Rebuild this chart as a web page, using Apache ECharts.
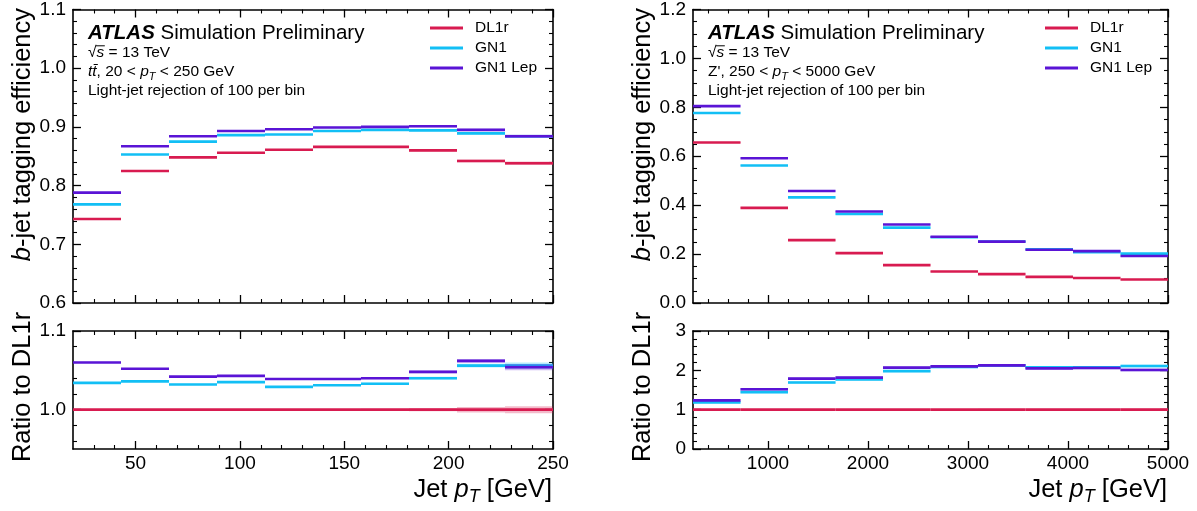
<!DOCTYPE html>
<html><head><meta charset="utf-8">
<script src="https://cdn.jsdelivr.net/npm/echarts@6/dist/echarts.min.js"></script>
<style>html,body{margin:0;padding:0;background:#fff}#c{width:1197px;height:511px}</style>
</head><body><div id="c"></div>
<script>
// ---------------- data ----------------
const seriesNames = ['DL1r', 'GN1', 'GN1 Lep'];
const seriesColors = ['#d81b50', '#12bff5', '#5a14d6'];

const ttbarEdges = [20, 43, 66, 89, 112, 135, 158, 181, 204, 227, 250];
const zpEdges = [250, 725, 1200, 1675, 2150, 2625, 3100, 3575, 4050, 4525, 5000];

// ttbar efficiency
const ttbarDL1r   = [0.743, 0.825, 0.848, 0.856, 0.861, 0.866, 0.866, 0.860, 0.842, 0.838];
const ttbarGN1    = [0.768, 0.853, 0.875, 0.886, 0.887, 0.893, 0.895, 0.894, 0.889, 0.884];
const ttbarGN1Lep = [0.788, 0.867, 0.884, 0.893, 0.896, 0.899, 0.900, 0.901, 0.895, 0.884];
const ttbarDL1rErr   = [0.001, 0.001, 0.001, 0.001, 0.001, 0.0012, 0.0014, 0.0018, 0.0024, 0.003];
const ttbarGN1Err    = [0.001, 0.001, 0.001, 0.001, 0.001, 0.0012, 0.0014, 0.0016, 0.002, 0.0026];
const ttbarGN1LepErr = [0.001, 0.001, 0.001, 0.001, 0.001, 0.0012, 0.0014, 0.0016, 0.002, 0.0026];
// ttbar ratio to DL1r
const ttbarRatioDL1r   = [1, 1, 1, 1, 1, 1, 1, 1, 1, 1];
const ttbarRatioGN1    = [1.034, 1.036, 1.032, 1.035, 1.029, 1.031, 1.033, 1.040, 1.056, 1.056];
const ttbarRatioGN1Lep = [1.060, 1.052, 1.042, 1.043, 1.039, 1.039, 1.040, 1.048, 1.062, 1.054];
const ttbarRatioDL1rErr   = [0.0006, 0.0006, 0.0006, 0.0006, 0.0007, 0.0009, 0.0013, 0.002, 0.0035, 0.0045];
const ttbarRatioGN1Err    = [0.0008, 0.0008, 0.0008, 0.0008, 0.0009, 0.001, 0.0013, 0.0018, 0.0025, 0.004];
const ttbarRatioGN1LepErr = [0.0008, 0.0008, 0.0008, 0.0008, 0.0009, 0.001, 0.0013, 0.0018, 0.0025, 0.004];

// Z' efficiency
const zpDL1r   = [0.656, 0.389, 0.257, 0.204, 0.155, 0.129, 0.118, 0.107, 0.102, 0.096];
const zpGN1    = [0.777, 0.562, 0.432, 0.364, 0.308, 0.269, 0.251, 0.220, 0.208, 0.202];
const zpGN1Lep = [0.805, 0.592, 0.458, 0.374, 0.321, 0.271, 0.251, 0.218, 0.212, 0.192];
const zpDL1rErr   = [0.002, 0.002, 0.002, 0.002, 0.002, 0.002, 0.002, 0.002, 0.002, 0.002];
const zpGN1Err    = [0.002, 0.002, 0.002, 0.002, 0.002, 0.002, 0.002, 0.002, 0.002, 0.002];
const zpGN1LepErr = [0.002, 0.002, 0.002, 0.002, 0.002, 0.002, 0.002, 0.002, 0.002, 0.002];
// Z' ratio to DL1r
const zpRatioDL1r   = [1, 1, 1, 1, 1, 1, 1, 1, 1, 1];
const zpRatioGN1    = [1.185, 1.447, 1.69, 1.77, 1.98, 2.085, 2.125, 2.075, 2.08, 2.11];
const zpRatioGN1Lep = [1.236, 1.52, 1.79, 1.815, 2.07, 2.10, 2.125, 2.05, 2.06, 2.01];
const zpRatioDL1rErr   = [0.01, 0.012, 0.014, 0.016, 0.018, 0.02, 0.022, 0.024, 0.026, 0.03];
const zpRatioGN1Err    = [0.02, 0.03, 0.03, 0.03, 0.03, 0.03, 0.03, 0.03, 0.03, 0.035];
const zpRatioGN1LepErr = [0.02, 0.03, 0.03, 0.03, 0.03, 0.03, 0.03, 0.03, 0.03, 0.035];

// ticks
const ttbarXMajor = [50, 100, 150, 200, 250];
const ttbarXMinor = [30, 40, 60, 70, 80, 90, 110, 120, 130, 140, 160, 170, 180, 190, 210, 220, 230, 240];
const zpXMajor = [1000, 2000, 3000, 4000, 5000];
const zpXMinor = [400, 600, 800, 1200, 1400, 1600, 1800, 2200, 2400, 2600, 2800, 3200, 3400, 3600, 3800, 4200, 4400, 4600, 4800];
const ttbarEffMajor = [0.6, 0.7, 0.8, 0.9, 1.0, 1.1];
const ttbarEffMinor = [0.62, 0.64, 0.66, 0.68, 0.72, 0.74, 0.76, 0.78, 0.82, 0.84, 0.86, 0.88, 0.92, 0.94, 0.96, 0.98, 1.02, 1.04, 1.06, 1.08];
const ttbarRatioMajor = [1.0, 1.1];
const ttbarRatioMinor = [0.96, 0.98, 1.02, 1.04, 1.06, 1.08];
const zpEffMajor = [0.0, 0.2, 0.4, 0.6, 0.8, 1.0, 1.2];
const zpEffMinor = [0.05, 0.1, 0.15, 0.25, 0.3, 0.35, 0.45, 0.5, 0.55, 0.65, 0.7, 0.75, 0.85, 0.9, 0.95, 1.05, 1.1, 1.15];
const zpRatioMajor = [0, 1, 2, 3];
const zpRatioMinor = [0.2, 0.4, 0.6, 0.8, 1.2, 1.4, 1.6, 1.8, 2.2, 2.4, 2.6, 2.8];

// ---------------- layout ----------------
const FONT = '"Liberation Sans", Arial, Helvetica, sans-serif';
const grids = [
  { left: 73, top: 7, width: 480, height: 296 },
  { left: 73, top: 331, width: 480, height: 118 },
  { left: 693, top: 7, width: 475, height: 296 },
  { left: 693, top: 331, width: 475, height: 118 }
];

const xAxes = [], yAxes = [];
function addAxes(list, dim, gridIndex, min, max, majors, minors, showLabels, fmt) {
  const first = list.length;
  const posA = dim === 'x' ? 'bottom' : 'left';
  const posB = dim === 'x' ? 'top' : 'right';
  const base = { type: 'value', gridIndex, min, max, splitLine: { show: false }, silent: true };
  const lineOn = { show: true, onZero: false, lineStyle: { color: '#000', width: 1.6 } };
  const tickMaj = { show: true, inside: true, length: 8, customValues: majors, lineStyle: { color: '#000', width: 1.3 } };
  const tickMin = { show: true, inside: true, length: 4, customValues: minors, lineStyle: { color: '#000', width: 1.1 } };
  list.push(Object.assign({}, base, {
    position: posA, axisLine: lineOn, axisTick: tickMaj,
    axisLabel: {
      show: showLabels, customValues: majors, formatter: fmt, showMinLabel: true, showMaxLabel: true,
      color: '#000', fontFamily: FONT, fontSize: 19, margin: dim === 'x' ? 5 : 7
    }
  }));
  list.push(Object.assign({}, base, { position: posA, axisLine: { show: false, onZero: false }, axisTick: tickMin, axisLabel: { show: false } }));
  list.push(Object.assign({}, base, { position: posB, axisLine: lineOn, axisTick: tickMaj, axisLabel: { show: false } }));
  list.push(Object.assign({}, base, { position: posB, axisLine: { show: false, onZero: false }, axisTick: tickMin, axisLabel: { show: false } }));
  return first;
}
const f1 = v => v.toFixed(1);
const f0 = v => String(Math.round(v));

const ax = [];
ax.push([addAxes(xAxes, 'x', 0, 20, 250, ttbarXMajor, ttbarXMinor, false, f0), addAxes(yAxes, 'y', 0, 0.6, 1.1, ttbarEffMajor, ttbarEffMinor, true, f1)]);
ax.push([addAxes(xAxes, 'x', 1, 20, 250, ttbarXMajor, ttbarXMinor, true, f0), addAxes(yAxes, 'y', 1, 0.95, 1.1, ttbarRatioMajor, ttbarRatioMinor, true, f1)]);
ax.push([addAxes(xAxes, 'x', 2, 250, 5000, zpXMajor, zpXMinor, false, f0), addAxes(yAxes, 'y', 2, 0, 1.2, zpEffMajor, zpEffMinor, true, f1)]);
ax.push([addAxes(xAxes, 'x', 3, 250, 5000, zpXMajor, zpXMinor, true, f0), addAxes(yAxes, 'y', 3, 0, 3, zpRatioMajor, zpRatioMinor, true, f0)]);

function renderStep(params, api) {
  const lo = api.value(0), hi = api.value(1), v = api.value(2), e = api.value(3);
  const color = api.visual('color');
  const children = [];
  if (e > 0) {
    const a = api.coord([lo, v + e]), b = api.coord([hi, v - e]);
    children.push({ type: 'rect', shape: { x: a[0], y: a[1], width: b[0] - a[0], height: b[1] - a[1] }, style: { fill: color, opacity: 0.3 } });
  }
  const p1 = api.coord([lo, v]), p2 = api.coord([hi, v]);
  children.push({ type: 'line', shape: { x1: p1[0], y1: p1[1], x2: p2[0], y2: p2[1] }, style: { stroke: color, lineWidth: 2.6 } });
  return { type: 'group', children };
}
function binData(edges, vals, errs) {
  return vals.map((v, i) => [edges[i], edges[i + 1], v, errs[i]]);
}
const series = [];
function addPanel(panel, edges, valsList, errsList) {
  valsList.forEach((vals, k) => {
    series.push({
      type: 'custom', name: seriesNames[k], xAxisIndex: ax[panel][0], yAxisIndex: ax[panel][1],
      clip: true, silent: true, color: seriesColors[k], itemStyle: { color: seriesColors[k] },
      encode: { x: [0, 1], y: 2 },
      renderItem: renderStep, data: binData(edges, vals, errsList[k])
    });
  });
}
addPanel(0, ttbarEdges, [ttbarDL1r, ttbarGN1, ttbarGN1Lep], [ttbarDL1rErr, ttbarGN1Err, ttbarGN1LepErr]);
addPanel(1, ttbarEdges, [ttbarRatioDL1r, ttbarRatioGN1, ttbarRatioGN1Lep], [ttbarRatioDL1rErr, ttbarRatioGN1Err, ttbarRatioGN1LepErr]);
addPanel(2, zpEdges, [zpDL1r, zpGN1, zpGN1Lep], [zpDL1rErr, zpGN1Err, zpGN1LepErr]);
addPanel(3, zpEdges, [zpRatioDL1r, zpRatioGN1, zpRatioGN1Lep], [zpRatioDL1rErr, zpRatioGN1Err, zpRatioGN1LepErr]);

// ---------------- texts ----------------
const SM = 15.5;
const richSmall = {
  n: { fontSize: SM, fontFamily: FONT, lineHeight: 20, verticalAlign: 'middle' },
  i: { fontSize: SM, fontFamily: FONT, fontStyle: 'italic', lineHeight: 20, verticalAlign: 'middle' },
  s: { fontSize: 11, fontFamily: FONT, fontStyle: 'italic', lineHeight: 11, verticalAlign: 'bottom' }
};
const BG = 25.5;
const richBig = {
  n: { fontSize: BG, fontFamily: FONT, lineHeight: 32, verticalAlign: 'middle' },
  i: { fontSize: BG, fontFamily: FONT, fontStyle: 'italic', lineHeight: 32, verticalAlign: 'middle' },
  s: { fontSize: 18, fontFamily: FONT, fontStyle: 'italic', lineHeight: 16, verticalAlign: 'bottom' }
};
function txt(x, y, text, rich, extra) {
  return Object.assign({
    type: 'text', x, y, silent: true,
    style: Object.assign({ text, rich, fill: '#000', fontFamily: FONT, fontSize: SM, textAlign: 'left', textVerticalAlign: 'middle' }, (extra && extra.style) || {})
  }, (extra && extra.el) || {});
}
function infoBlock(x, procLine) {
  return [
    txt(x, 33, '{b|ATLAS}{t| Simulation Preliminary}', {
      b: { fontSize: 20.5, fontFamily: FONT, fontWeight: 'bold', fontStyle: 'italic' },
      t: { fontSize: 20.5, fontFamily: FONT }
    }),
    txt(x, 53, '{n|\u221A}{i|s}{n| = 13 TeV}', richSmall),
    { type: 'line', silent: true, shape: { x1: x + 8, y1: 45.8, x2: x + 16.8, y2: 45.8 }, style: { stroke: '#000', lineWidth: 1 } },
    txt(x, 72, procLine, richSmall),
    txt(x, 91, '{n|Light-jet rejection of 100 per bin}', richSmall)
  ];
}
const graphic = [].concat(
  infoBlock(88, '{i|tt\u0304}{n|, 20 < }{i|p}{s|T}{n| < 250 GeV}'),
  infoBlock(708, "{n|Z', 250 < }{i|p}{s|T}{n| < 5000 GeV}"),
  [
    txt(23, 8, '{i|b}{n|-jet tagging efficiency}', richBig, { style: { textAlign: 'right' }, el: { rotation: Math.PI / 2 } }),
    txt(23, 387, '{n|Ratio to DL1r}', richBig, { style: { textAlign: 'center' }, el: { rotation: Math.PI / 2 } }),
    txt(643, 8, '{i|b}{n|-jet tagging efficiency}', richBig, { style: { textAlign: 'right' }, el: { rotation: Math.PI / 2 } }),
    txt(643, 387, '{n|Ratio to DL1r}', richBig, { style: { textAlign: 'center' }, el: { rotation: Math.PI / 2 } }),
    txt(552, 490, '{n|Jet }{i|p}{s|T}{n| [GeV]}', richBig, { style: { textAlign: 'right' } }),
    txt(1167, 490, '{n|Jet }{i|p}{s|T}{n| [GeV]}', richBig, { style: { textAlign: 'right' } })
  ]
);

function legendAt(left) {
  return {
    left, top: 20, orient: 'vertical', padding: 0, itemGap: 4, itemWidth: 33, itemHeight: 3,
    icon: 'rect', selectedMode: false, data: seriesNames,
    textStyle: { fontFamily: FONT, fontSize: 15.5, lineHeight: 15, color: '#000', padding: [0, 0, 0, 7] }
  };
}

const chart = echarts.init(document.getElementById('c'), null, { renderer: 'canvas' });
chart.setOption({
  animation: false,
  backgroundColor: '#fff',
  grid: grids,
  xAxis: xAxes,
  yAxis: yAxes,
  legend: [legendAt(430), legendAt(1045)],
  series,
  graphic
});
</script></body></html>
